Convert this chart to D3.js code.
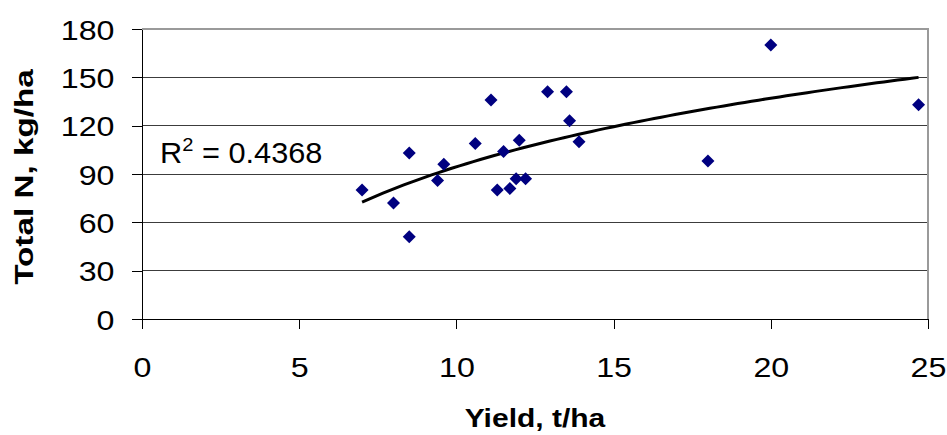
<!DOCTYPE html>
<html>
<head>
<meta charset="utf-8">
<script src="https://cdn.jsdelivr.net/npm/d3@7"></script>
<style>
  body { margin: 0; background: #fff; }
  svg { display: block; font-family: "Liberation Sans", Arial, sans-serif; }
</style>
</head>
<body>
<svg></svg>
<script>
// Data: yield (t/ha) and total N (kg/ha)
const yieldValues = [7, 8, 8.5, 8.5, 9.4, 9.6, 10.6, 11.1, 11.3, 11.5, 11.7, 11.9, 12, 12.2, 12.9, 13.5, 13.6, 13.9, 18, 20, 24.7];
const totalN = [80, 72, 103, 51, 86, 96, 109, 136, 80, 104, 81, 87, 111, 87, 141, 141, 123, 110, 98, 170, 133];
const xTicks = [0, 5, 10, 15, 20, 25];
const yTicks = [0, 30, 60, 90, 120, 150, 180];
const rSquaredLabel = "0.4368";

const points = yieldValues.map((x, i) => ({ x: x, y: totalN[i] }));

// Chart size and plot box
const width = 947, height = 435;
const plot = { left: 142, right: 928, top: 29, bottom: 319 };

const svg = d3.select("svg")
    .attr("width", width)
    .attr("height", height);

svg.append("rect")
    .attr("width", width)
    .attr("height", height)
    .attr("fill", "#fff");

const xScale = d3.scaleLinear().domain([0, 25]).range([plot.left, plot.right]);
const yScale = d3.scaleLinear().domain([0, 180]).range([plot.bottom, plot.top]);

// Horizontal gridlines
svg.append("g")
    .selectAll("line")
    .data(yTicks.filter(d => d > 0 && d < 180))
    .enter().append("line")
    .attr("x1", plot.left)
    .attr("x2", plot.right)
    .attr("y1", d => yScale(d))
    .attr("y2", d => yScale(d))
    .attr("stroke", "#3c3c3c")
    .attr("stroke-width", 1)
    .attr("shape-rendering", "crispEdges");

// Grey frame on the top and right
svg.append("path")
    .attr("d", `M${plot.left},${yScale(180)}H${xScale(25)}V${plot.bottom}`)
    .attr("fill", "none")
    .attr("stroke", "#9a9a9a")
    .attr("stroke-width", 2);

// Tick labels in the original are drawn a bit wide
const tickStretch = 1.15;

// Y axis
const yAxis = svg.append("g")
    .attr("transform", `translate(${plot.left},0)`)
    .call(d3.axisLeft(yScale).tickValues(yTicks).tickSize(10).tickSizeOuter(0));

// X axis
const xAxis = svg.append("g")
    .attr("transform", `translate(0,${plot.bottom})`)
    .call(d3.axisBottom(xScale).tickValues(xTicks).tickSize(10).tickSizeOuter(0));

[yAxis, xAxis].forEach(g => {
    g.select(".domain").attr("stroke", "#000").attr("shape-rendering", "crispEdges");
    g.selectAll(".tick line").attr("stroke", "#000").attr("shape-rendering", "crispEdges");
    g.selectAll("text")
        .attr("fill", "#000")
        .style("font-size", "28px")
        .style("font-family", "'Liberation Sans', Arial, sans-serif");
});

yAxis.selectAll("text")
    .attr("x", null)
    .attr("dy", "0.36em")
    .attr("transform", `translate(-27.5,0) scale(${tickStretch},1)`);

xAxis.selectAll("text")
    .attr("y", null)
    .attr("dy", null)
    .attr("transform", `translate(0,57.5) scale(${tickStretch},1)`);

// Logarithmic trendline fitted to the points (y = a ln x + b)
const lnX = points.map(d => Math.log(d.x));
const meanL = d3.mean(lnX), meanY = d3.mean(points, d => d.y);
const slope = d3.sum(points, (d, i) => (lnX[i] - meanL) * (d.y - meanY)) /
    d3.sum(lnX, l => (l - meanL) * (l - meanL));
const intercept = meanY - slope * meanL;

const [xMin, xMax] = d3.extent(yieldValues);
const trend = d3.range(0, 81).map(i => {
    const x = xMin + (xMax - xMin) * i / 80;
    return { x: x, y: slope * Math.log(x) + intercept };
});

svg.append("path")
    .datum(trend)
    .attr("d", d3.line().x(d => xScale(d.x)).y(d => yScale(d.y)))
    .attr("fill", "none")
    .attr("stroke", "#000")
    .attr("stroke-width", 3);

// Diamond markers
svg.append("g")
    .selectAll("path")
    .data(points)
    .enter().append("path")
    .attr("transform", d => `translate(${xScale(d.x)},${yScale(d.y)})`)
    .attr("d", "M0,-6.5L6.5,0L0,6.5L-6.5,0Z")
    .attr("fill", "#000080");

// R squared label
const rText = svg.append("text")
    .attr("transform", "translate(160,162.5) scale(1.06,1)")
    .style("font-size", "29px")
    .attr("fill", "#000");
rText.append("tspan").text("R");
rText.append("tspan").attr("dy", -12).style("font-size", "19px").text("2");
rText.append("tspan").attr("dy", 12).text(" = " + rSquaredLabel);

// Axis titles
svg.append("text")
    .attr("transform", `translate(${(plot.left + plot.right) / 2},427) scale(1.2,1)`)
    .attr("text-anchor", "middle")
    .style("font-size", "25px")
    .style("font-weight", "bold")
    .text("Yield, t/ha");

svg.append("text")
    .attr("transform", `translate(33,${(plot.top + plot.bottom) / 2 + 3}) rotate(-90) scale(1.28,1)`)
    .attr("text-anchor", "middle")
    .style("font-size", "26px")
    .style("font-weight", "bold")
    .text("Total N, kg/ha");
</script>
</body>
</html>
